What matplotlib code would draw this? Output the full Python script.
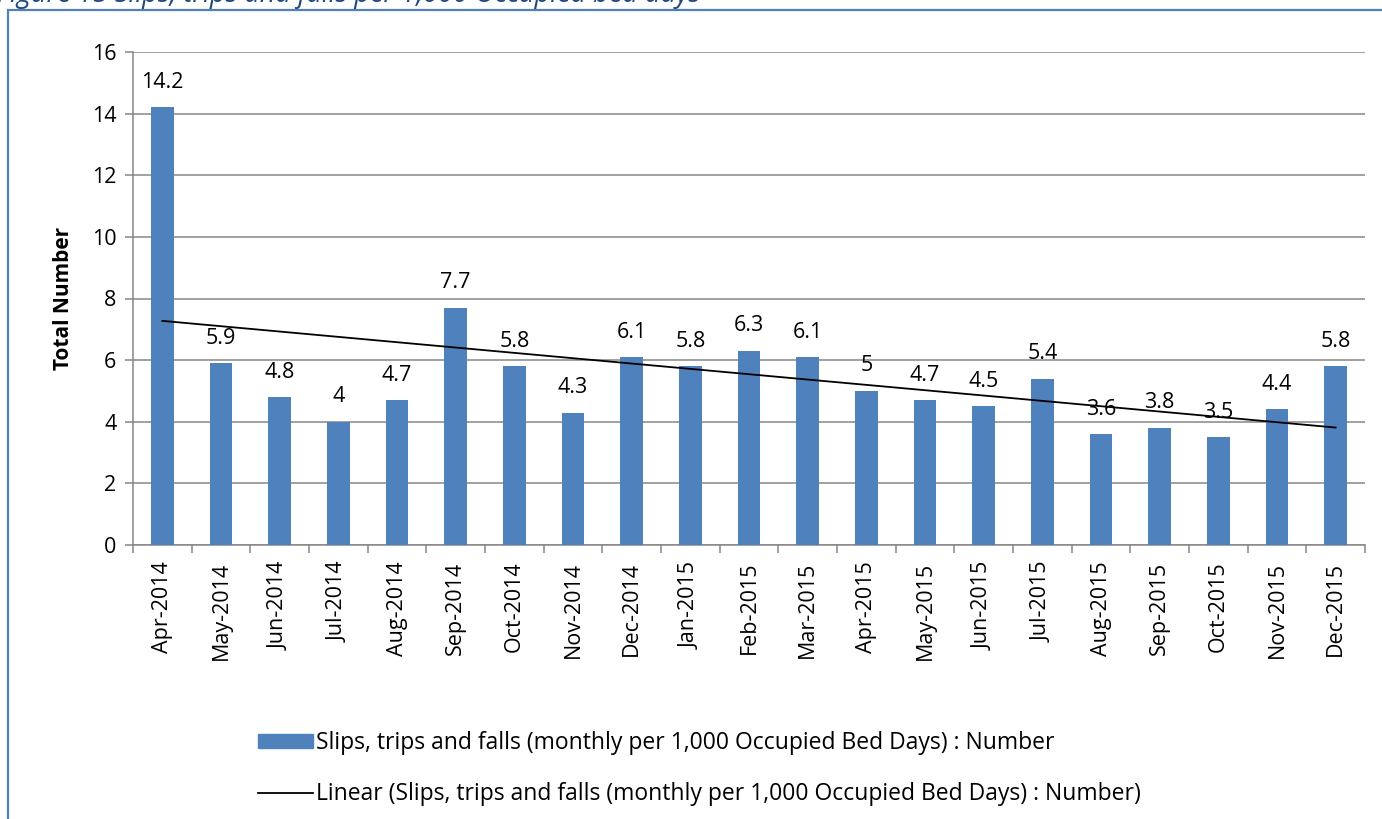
import numpy as np
import matplotlib
matplotlib.use("Agg")
import matplotlib.pyplot as plt
from matplotlib.patches import Rectangle
from matplotlib.lines import Line2D
from matplotlib.patches import Patch

plt.rcParams["font.family"] = ["Open Sans", "DejaVu Sans"]

# ── Data ──────────────────────────────────────────────────────────────────────
months = ["Apr-2014", "May-2014", "Jun-2014", "Jul-2014", "Aug-2014",
          "Sep-2014", "Oct-2014", "Nov-2014", "Dec-2014", "Jan-2015",
          "Feb-2015", "Mar-2015", "Apr-2015", "May-2015", "Jun-2015",
          "Jul-2015", "Aug-2015", "Sep-2015", "Oct-2015", "Nov-2015",
          "Dec-2015"]
values = [14.2, 5.9, 4.8, 4, 4.7, 7.7, 5.8, 4.3, 6.1, 5.8,
          6.3, 6.1, 5, 4.7, 4.5, 5.4, 3.6, 3.8, 3.5, 4.4, 5.8]
value_labels = ["14.2", "5.9", "4.8", "4", "4.7", "7.7", "5.8", "4.3", "6.1",
                "5.8", "6.3", "6.1", "5", "4.7", "4.5", "5.4", "3.6", "3.8",
                "3.5", "4.4", "5.8"]
yticks = [0, 2, 4, 6, 8, 10, 12, 14, 16]

BAR = "#4F81BD"
GRID = "#868686"
W, H = 1382, 819
FS = 15.5

fig = plt.figure(figsize=(W / 100, H / 100), dpi=100)

# ── Frame and (cropped) caption ───────────────────────────────────────────────
fig.patches.append(Rectangle((7.5 / W, -0.05), 1.2, 1 - 10 / H + 0.05,
                             transform=fig.transFigure, fill=False,
                             edgecolor=BAR, linewidth=1.6))
fig.text(-3 / W, 1 - 2 / H,
         "Figure 15 Slips, trips and falls per 1,000 Occupied bed days",
         fontsize=19.5, style="italic", color="#1F497D", va="baseline")

# ── Axes ──────────────────────────────────────────────────────────────────────
ax = fig.add_axes([133 / W, 1 - 545 / H, (1365 - 133) / W, (545 - 52) / H])
x = np.arange(len(values))
ax.bar(x, values, width=0.39, color=BAR, zorder=3)

coef = np.polyfit(x, values, 1)
ax.plot(x, np.polyval(coef, x), color="black", linewidth=1.3, zorder=4)

for xi, v, lab in zip(x, values, value_labels):
    ax.annotate(lab, (xi, v), xytext=(0, 14), textcoords="offset points",
                ha="center", va="baseline", fontsize=FS, zorder=5)

ax.set_xlim(-0.5, len(values) - 0.5)
ax.set_ylim(0, 16)
ax.set_yticks(yticks)
ax.yaxis.grid(True, color=GRID, linewidth=1.1, zorder=0)
ax.set_axisbelow(True)

ax.set_xticks(x)
ax.set_xticklabels(months, rotation=90, fontsize=FS)
ax.set_xticks(np.arange(len(values) + 1) - 0.5, minor=True)
ax.tick_params(axis="x", which="major", length=0, pad=12)
ax.tick_params(axis="x", which="minor", length=6, color=GRID, width=1.1)
ax.tick_params(axis="y", length=6, color=GRID, width=1.1, labelsize=FS, pad=6)

for s in ["top", "right"]:
    ax.spines[s].set_visible(False)
for s in ["left", "bottom"]:
    ax.spines[s].set_color(GRID)
    ax.spines[s].set_linewidth(1.1)

ax.set_ylabel("Total Number", fontsize=15, fontweight="bold", labelpad=13)

# ── Legend ────────────────────────────────────────────────────────────────────
handles = [Patch(color=BAR),
           Line2D([0], [0], color="black", linewidth=1.3)]
labels = ["Slips, trips and falls (monthly per 1,000 Occupied Bed Days) : Number",
          "Linear (Slips, trips and falls (monthly per 1,000 Occupied Bed Days) : Number)"]
fig.legend(handles, labels, loc="upper left",
           bbox_to_anchor=(258 / W, 1 - 731 / H), frameon=False,
           fontsize=16.5, handlelength=2.4, handleheight=0.55,
           handletextpad=0.12, labelspacing=1.2, borderpad=0,
           borderaxespad=0)

fig.savefig("out.png", dpi=100, facecolor="white")
